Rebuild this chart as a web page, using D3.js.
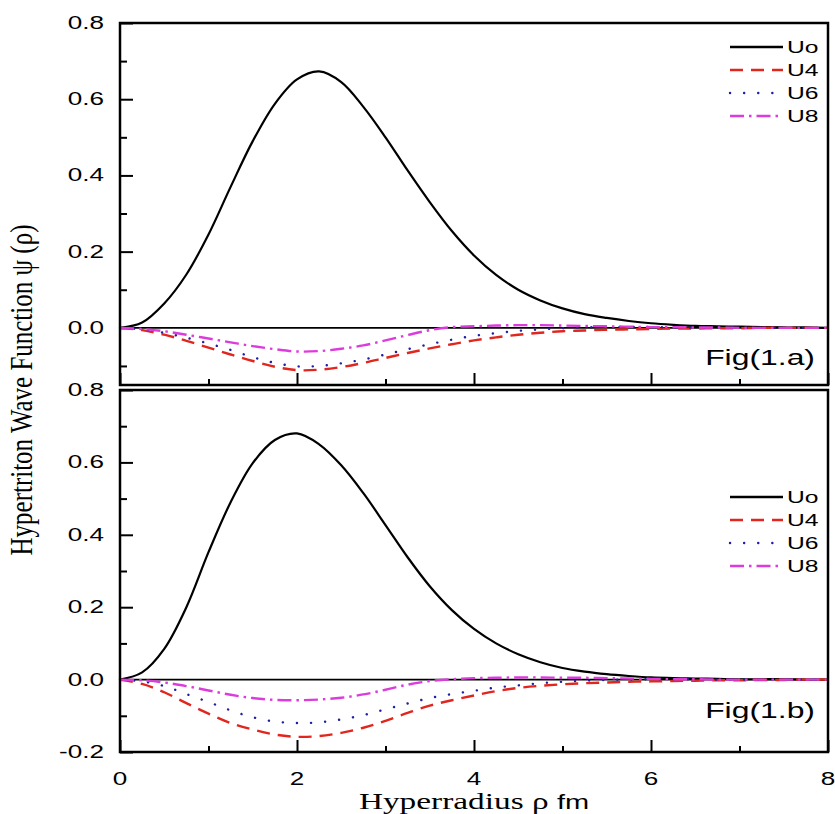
<!DOCTYPE html>
<html>
<head>
<meta charset="utf-8">
<script src="https://d3js.org/d3.v7.min.js"></script>
<style>
  body { margin: 0; background: #fff; }
  .tick line { stroke: #000; stroke-width: 2; }
  .sans { font-family: "Liberation Sans", Arial, sans-serif; fill: #000; }
  .serif { font-family: "Liberation Serif", "Times New Roman", serif; fill: #000; }
</style>
</head>
<body>
<svg id="chart" width="835" height="814"></svg>
<script>
// hyperradius grid (fm)
const rho = [0, 0.25, 0.5, 0.75, 1, 1.25, 1.5, 1.75, 2, 2.25, 2.5, 2.75, 3, 3.25, 3.5, 3.75,
             4, 4.25, 4.5, 4.75, 5, 5.25, 5.5, 5.75, 6, 6.25, 6.5, 6.75, 7, 7.25, 7.5, 7.75, 8];

// Fig(1.a)
const aUo = [0, 0.014, 0.064, 0.14, 0.245, 0.37, 0.49, 0.588, 0.652, 0.673, 0.645, 0.58, 0.5, 0.413, 0.33, 0.254,
             0.19, 0.139, 0.1, 0.072, 0.051, 0.036, 0.026, 0.018, 0.012, 0.008, 0.005, 0.004, 0.003, 0.002, 0.001, 0.001, 0];
const aU4 = [0, -0.006, -0.018, -0.034, -0.052, -0.07, -0.087, -0.102, -0.111, -0.11, -0.103, -0.092, -0.079, -0.066, -0.054, -0.043,
             -0.033, -0.025, -0.018, -0.013, -0.009, -0.007, -0.005, -0.004, -0.003, -0.002, -0.002, -0.001, -0.001, 0, 0, 0, 0];
const aU6 = [0, -0.004, -0.013, -0.026, -0.041, -0.058, -0.077, -0.092, -0.101, -0.1, -0.093, -0.083, -0.07, -0.056, -0.043, -0.031,
             -0.021, -0.014, -0.008, -0.004, -0.001, 0.001, 0.002, 0.002, 0.002, 0.001, 0.001, 0.001, 0, 0, 0, 0, 0];
const aU8 = [0, -0.003, -0.009, -0.018, -0.028, -0.038, -0.048, -0.056, -0.062, -0.061, -0.055, -0.046, -0.033, -0.019, -0.006, 0.002,
             0.004, 0.006, 0.007, 0.007, 0.006, 0.005, 0.004, 0.003, 0.002, 0.002, 0.001, 0.001, 0, 0, 0, 0, 0];

// Fig(1.b)
const bUo = [0, 0.02, 0.085, 0.2, 0.352, 0.49, 0.598, 0.662, 0.68, 0.65, 0.592, 0.515, 0.427, 0.338, 0.258, 0.192,
             0.14, 0.1, 0.07, 0.048, 0.032, 0.022, 0.015, 0.01, 0.006, 0.004, 0.003, 0.002, 0.001, 0.001, 0.001, 0, 0];
const bU4 = [0, -0.012, -0.035, -0.065, -0.094, -0.12, -0.138, -0.152, -0.158, -0.156, -0.147, -0.133, -0.114, -0.092, -0.072, -0.057,
             -0.044, -0.032, -0.023, -0.017, -0.013, -0.01, -0.008, -0.006, -0.005, -0.004, -0.003, -0.002, -0.002, -0.001, -0.001, 0, 0];
const bU6 = [0, -0.005, -0.018, -0.04, -0.062, -0.085, -0.104, -0.116, -0.12, -0.118, -0.11, -0.098, -0.082, -0.066, -0.051, -0.04,
             -0.031, -0.022, -0.016, -0.01, -0.006, -0.003, -0.001, 0, 0.001, 0.001, 0.001, 0, 0, 0, 0, 0, 0];
const bU8 = [0, -0.002, -0.008, -0.018, -0.03, -0.042, -0.051, -0.056, -0.057, -0.055, -0.05, -0.041, -0.028, -0.014, -0.004, 0.001,
             0.004, 0.005, 0.006, 0.006, 0.005, 0.005, 0.004, 0.003, 0.002, 0.001, 0.001, 0, 0, 0, 0, 0, 0];

const seriesNames = ["Uo", "U4", "U6", "U8"];
const seriesColors = ["#000000", "#e0261e", "#1f1fa0", "#dc3cdc"];
const seriesDash = [null, "13,8", "0.1,14", "14,5,2.5,5"];

const xMajor = [0, 2, 4, 6, 8];
const xMinor = [1, 3, 5, 7];
const aYMajor = [0, 0.2, 0.4, 0.6, 0.8];
const bYMajor = [-0.2, 0, 0.2, 0.4, 0.6, 0.8];
const yMinor = [-0.1, 0.1, 0.3, 0.5, 0.7];

const SX = 1.45; // the original figure is stretched sideways
const svg = d3.select("#chart");
const x = d3.scaleLinear().domain([0, 8]).range([120, 828]);
const fmt = v => d3.format(".1f")(v).replace("\u2212", "-");

const panels = [
  { top: 23, bottom: 385, domain: [-0.15, 0.8], series: [aUo, aU4, aU6, aU8], yMajor: aYMajor,
    fig: "Fig(1.a)", figY: 357, legendY: 47, xLabels: false },
  { top: 390, bottom: 752, domain: [-0.2, 0.8], series: [bUo, bU4, bU6, bU8], yMajor: bYMajor,
    fig: "Fig(1.b)", figY: 710, legendY: 497, xLabels: true }
];

function stretched(parent, px, py, str, size, anchor) {
  return parent.append("text")
    .attr("class", "sans")
    .attr("transform", `translate(${px},${py}) scale(${SX},1)`)
    .attr("text-anchor", anchor)
    .attr("dominant-baseline", "central")
    .style("font-size", size + "px")
    .text(str);
}

panels.forEach(p => {
  const y = d3.scaleLinear().domain(p.domain).range([p.bottom, p.top]);
  const g = svg.append("g");

  // inward ticks
  g.append("g").attr("transform", `translate(${x(0)},0)`)
    .call(d3.axisLeft(y).tickValues(p.yMajor).tickSize(-13).tickFormat(""))
    .call(a => a.select(".domain").remove());
  g.append("g").attr("transform", `translate(${x(0)},0)`)
    .call(d3.axisLeft(y).tickValues(yMinor).tickSize(-7).tickFormat(""))
    .call(a => a.select(".domain").remove());
  g.append("g").attr("transform", `translate(0,${p.bottom})`)
    .call(d3.axisBottom(x).tickValues(xMajor).tickSize(-12).tickFormat(""))
    .call(a => a.select(".domain").remove());
  g.append("g").attr("transform", `translate(0,${p.bottom})`)
    .call(d3.axisBottom(x).tickValues(xMinor).tickSize(-6).tickFormat(""))
    .call(a => a.select(".domain").remove());

  // tick labels
  p.yMajor.forEach(v => stretched(g, 104, y(v), fmt(v), 18, "end"));
  if (p.xLabels) {
    xMajor.forEach(v => stretched(g, x(v), p.bottom + 27, String(v), 18, "middle"));
  }

  // zero line
  g.append("line")
    .attr("x1", x(0)).attr("x2", x(8))
    .attr("y1", y(0)).attr("y2", y(0))
    .attr("stroke", "#000").attr("stroke-width", 1.8);

  // curves
  const line = d3.line().x((d, i) => x(rho[i])).y(d => y(d)).curve(d3.curveCatmullRom.alpha(0.5));
  p.series.forEach((s, k) => {
    g.append("path")
      .attr("d", line(s))
      .attr("fill", "none")
      .attr("stroke", seriesColors[k])
      .attr("stroke-width", k === 0 ? 2.2 : 2.4)
      .attr("stroke-linecap", k === 2 ? "round" : "butt")
      .attr("stroke-dasharray", seriesDash[k]);
  });

  // frame
  g.append("rect")
    .attr("x", x(0)).attr("y", p.top)
    .attr("width", x(8) - x(0)).attr("height", p.bottom - p.top)
    .attr("fill", "none").attr("stroke", "#000").attr("stroke-width", 2.5);

  // legend
  seriesNames.forEach((name, k) => {
    const ly = p.legendY + k * 23;
    g.append("line")
      .attr("x1", 730).attr("x2", 783).attr("y1", ly).attr("y2", ly)
      .attr("stroke", seriesColors[k]).attr("stroke-width", 2.4)
      .attr("stroke-linecap", k === 2 ? "round" : "butt")
      .attr("stroke-dasharray", seriesDash[k]);
    stretched(g, 787, ly, name, 17, "start");
  });

  stretched(g, 815, p.figY, p.fig, 22, "end");
});

// axis titles
const xt = svg.append("text")
  .attr("transform", `translate(474,809) scale(${SX},1)`)
  .attr("text-anchor", "middle");
xt.append("tspan").attr("class", "serif").style("font-size", "23px").text("Hyperradius ρ ");
xt.append("tspan").attr("class", "sans").style("font-size", "20px").text("fm");

svg.append("text")
  .attr("class", "serif")
  .attr("transform", "translate(22,390) scale(1.25,1) rotate(-90)")
  .attr("text-anchor", "middle")
  .attr("dominant-baseline", "central")
  .style("font-size", "25px")
  .text("Hypertriton Wave Function ψ (ρ)");
</script>
</body>
</html>
